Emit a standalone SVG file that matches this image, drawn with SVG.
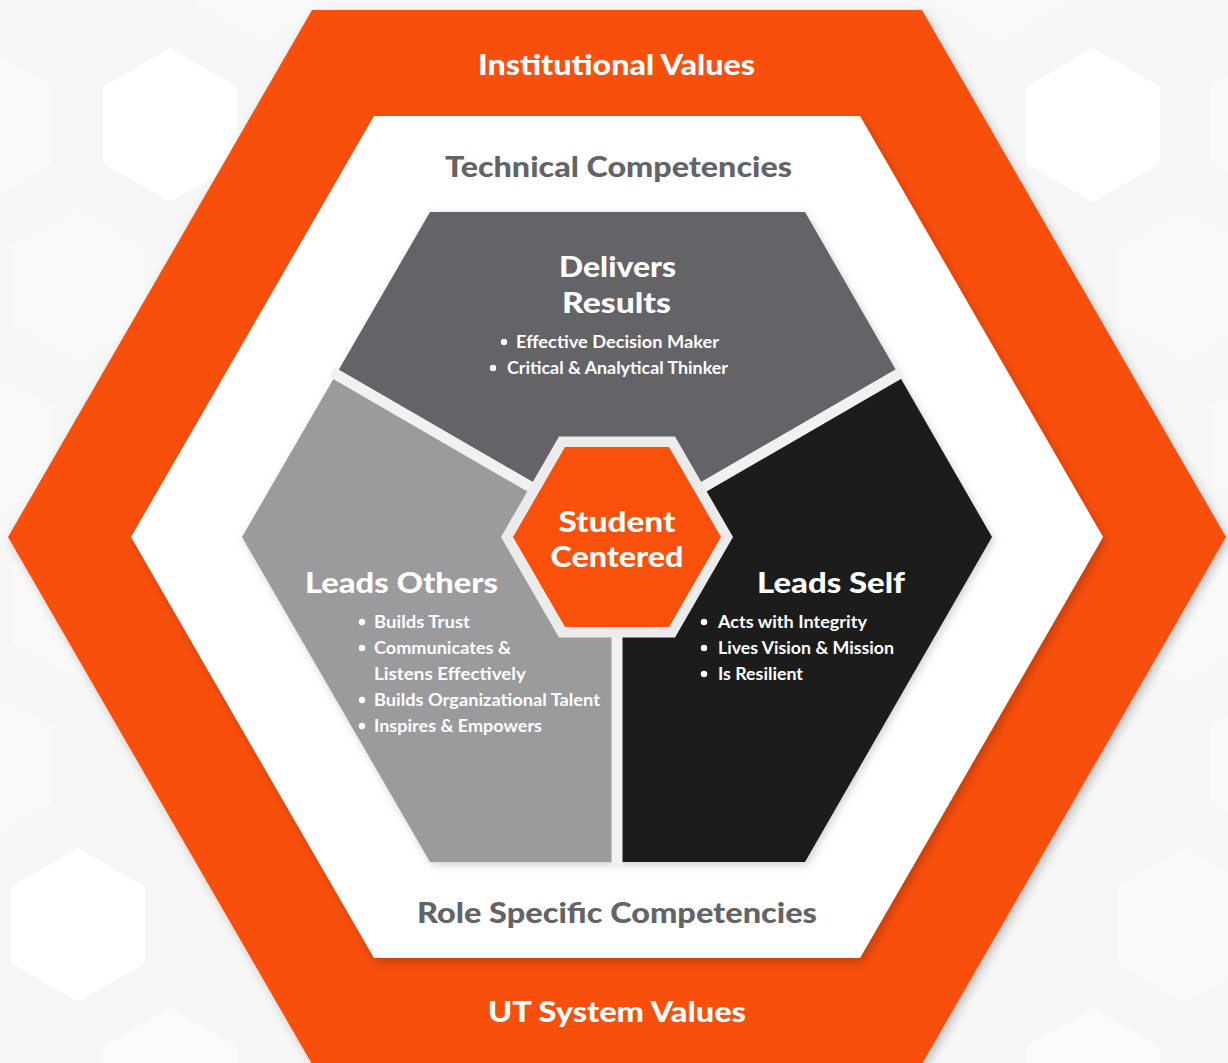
<svg xmlns="http://www.w3.org/2000/svg" width="1228" height="1063" viewBox="0 0 1228 1063">
<defs>
<style>
.bg{fill:#ffffff}
.h{font-family:Lato,"Open Sans",sans-serif;font-weight:900;font-size:29px;text-anchor:middle}
.b{font-family:Lato,"Open Sans",sans-serif;font-weight:700;font-size:16.5px;fill:#ffffff}
.w{fill:#ffffff}
.g{fill:#646367}
</style>
<filter id="sh" x="-10%" y="-10%" width="120%" height="120%">
<feDropShadow dx="3" dy="4" stdDeviation="5" flood-color="#000" flood-opacity="0.22"/>
</filter>
<filter id="sh2" x="-10%" y="-10%" width="120%" height="120%">
<feDropShadow dx="2" dy="3" stdDeviation="4" flood-color="#000" flood-opacity="0.18"/>
</filter>
<polygon id="bh" points="0,-77 67,-38.5 67,38.5 0,77 -67,38.5 -67,-38.5"/>
</defs>
<rect width="1228" height="1063" fill="#f6f6f6"/>
<g id="background" class="bg">
<use href="#bh" x="-15" y="125" opacity="0.45"/>
<use href="#bh" x="170" y="125"/>
<use href="#bh" x="78" y="285" opacity="0.35"/>
<use href="#bh" x="-15" y="445" opacity="0.35"/>
<use href="#bh" x="78" y="605" opacity="0.3"/>
<use href="#bh" x="-15" y="765" opacity="0.35"/>
<use href="#bh" x="78" y="925"/>
<use href="#bh" x="170" y="1085" opacity="0.5"/>
<use href="#bh" x="1093" y="125"/>
<use href="#bh" x="1277" y="125" opacity="0.45"/>
<use href="#bh" x="1185" y="285" opacity="0.4"/>
<use href="#bh" x="1277" y="445" opacity="0.35"/>
<use href="#bh" x="1185" y="605" opacity="0.3"/>
<use href="#bh" x="1277" y="765" opacity="0.45"/>
<use href="#bh" x="1185" y="925" opacity="0.45"/>
<use href="#bh" x="1093" y="1085" opacity="0.5"/>
<use href="#bh" x="1000" y="-35" opacity="0.4"/>
<use href="#bh" x="262" y="-35" opacity="0.4"/>
</g>
<g id="outer" filter="url(#sh)">
<polygon points="312,10 922,10 1226,537 922,1064 312,1064 8,537" fill="#f9500c"/>
</g>
<g id="inner" filter="url(#sh)">
<polygon points="374,116 860,116 1103,537 860,958 374,958 131,537" fill="#ffffff"/>
</g>
<g id="core" filter="url(#sh2)">
<g id="delivers-results">
<polygon points="430,212 805,212 898.5,374.5 617,537 336,374.5" fill="#646367"/>
</g>
<g id="leads-self">
<polygon points="898.5,374.5 992,537 805,862 617.5,862 617,537" fill="#1b1b1b"/>
</g>
<g id="leads-others">
<polygon points="617.5,862 430,862 242,537 336,374.5 617,537" fill="#9b9a9c"/>
</g>
</g>
<g id="connectors" stroke="#f1f1f1" stroke-width="11" fill="none">
<line x1="617" y1="537" x2="332" y2="372"/>
<line x1="617" y1="537" x2="902" y2="372"/>
<line x1="617" y1="537" x2="617" y2="866"/>
</g>
<g id="student-centered">
<polygon points="559,436.5 675,436.5 733,537 675,637.5 559,637.5 501,537" fill="#ebebeb"/>
<polygon points="565,447 669,447 721,537 669,627 565,627 513,537" fill="#f9500c"/>
<text class="h w" x="617" y="532" textLength="117" lengthAdjust="spacingAndGlyphs">Student</text>
<text class="h w" x="617" y="567" textLength="133" lengthAdjust="spacingAndGlyphs">Centered</text>
</g>
<g id="labels">
<text class="h w" x="616.5" y="75" textLength="277" lengthAdjust="spacingAndGlyphs">Institutional Values</text>
<text class="h g" x="618.5" y="177" textLength="347" lengthAdjust="spacingAndGlyphs">Technical Competencies</text>
<text class="h g" x="617" y="923" textLength="400" lengthAdjust="spacingAndGlyphs">Role Specific Competencies</text>
<text class="h w" x="617" y="1022" textLength="258" lengthAdjust="spacingAndGlyphs">UT System Values</text>
</g>
<g id="delivers-text">
<text class="h w" x="617.5" y="277" textLength="117" lengthAdjust="spacingAndGlyphs">Delivers</text>
<text class="h w" x="616.5" y="313" textLength="109" lengthAdjust="spacingAndGlyphs">Results</text>
<circle cx="504" cy="342" r="3.2" class="w"/>
<text class="b" x="516" y="348" textLength="203" lengthAdjust="spacingAndGlyphs">Effective Decision Maker</text>
<circle cx="493" cy="368" r="3.2" class="w"/>
<text class="b" x="507" y="374" textLength="221" lengthAdjust="spacingAndGlyphs">Critical &amp; Analytical Thinker</text>
</g>
<g id="others-text">
<text class="h w" x="401.5" y="593" textLength="193" lengthAdjust="spacingAndGlyphs">Leads Others</text>
<circle cx="362" cy="622" r="3.2" class="w"/>
<text class="b" x="374" y="628" textLength="96" lengthAdjust="spacingAndGlyphs">Builds Trust</text>
<circle cx="362" cy="648" r="3.2" class="w"/>
<text class="b" x="374" y="654" textLength="137" lengthAdjust="spacingAndGlyphs">Communicates &amp;</text>
<text class="b" x="374" y="680" textLength="152" lengthAdjust="spacingAndGlyphs">Listens Effectively</text>
<circle cx="362" cy="700" r="3.2" class="w"/>
<text class="b" x="374" y="706" textLength="226" lengthAdjust="spacingAndGlyphs">Builds Organizational Talent</text>
<circle cx="362" cy="726" r="3.2" class="w"/>
<text class="b" x="374" y="732" textLength="168" lengthAdjust="spacingAndGlyphs">Inspires &amp; Empowers</text>
</g>
<g id="self-text">
<text class="h w" x="831" y="593" textLength="148" lengthAdjust="spacingAndGlyphs">Leads Self</text>
<circle cx="704" cy="622" r="3.2" class="w"/>
<text class="b" x="718" y="628" textLength="149" lengthAdjust="spacingAndGlyphs">Acts with Integrity</text>
<circle cx="704" cy="648" r="3.2" class="w"/>
<text class="b" x="718" y="654" textLength="176" lengthAdjust="spacingAndGlyphs">Lives Vision &amp; Mission</text>
<circle cx="704" cy="674" r="3.2" class="w"/>
<text class="b" x="718" y="680" textLength="85" lengthAdjust="spacingAndGlyphs">Is Resilient</text>
</g>
</svg>
